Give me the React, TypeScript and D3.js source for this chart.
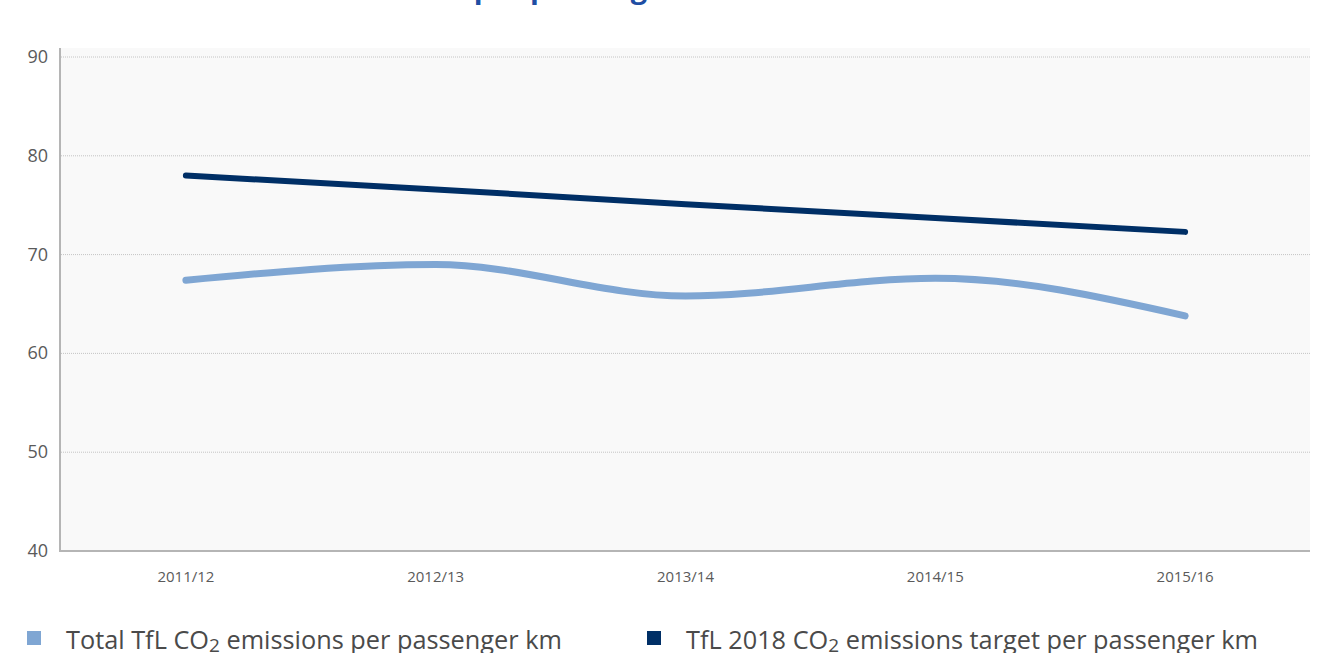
import React, { useEffect, useRef } from 'react';
import * as d3 from 'd3';

const years = ['2011/12', '2012/13', '2013/14', '2014/15', '2015/16'];
const totalEmissions = [67.4, 69.0, 65.8, 67.6, 63.8];
const targetEmissions = [78.0, 76.6, 75.1, 73.7, 72.3];
const yTicks = [40, 50, 60, 70, 80, 90];

const lightBlue = '#7fa6d3';
const darkBlue = '#002f66';
const font = "'Open Sans', 'DejaVu Sans', sans-serif";

const App: React.FC = () => {
  const svgRef = useRef<SVGSVGElement>(null);

  useEffect(() => {
    if (!svgRef.current) return;
    const svg = d3.select(svgRef.current);
    svg.selectAll('*').remove();

    const width = 1319;
    const margin = { top: 48, right: 9, bottom: 102, left: 61 };
    const bottom = 551;

    const x = d3
      .scalePoint<string>()
      .domain(years)
      .range([margin.left, width - margin.right])
      .padding(0.5);

    const y = d3.scaleLinear().domain([40, 90]).range([bottom, 57]);

    // title, cut off at the top edge
    svg
      .append('text')
      .attr('x', 257)
      .attr('y', -2)
      .attr('fill', '#1f4ea3')
      .attr('font-family', font)
      .attr('font-weight', 700)
      .attr('font-size', 29)
      .text('CO2 emissions per passenger km');

    svg
      .append('rect')
      .attr('x', margin.left)
      .attr('y', margin.top)
      .attr('width', width - margin.right - margin.left)
      .attr('height', bottom - margin.top)
      .attr('fill', '#f9f9f9');

    svg
      .append('g')
      .selectAll('line')
      .data(yTicks.slice(1))
      .enter()
      .append('line')
      .attr('x1', margin.left)
      .attr('x2', width - margin.right)
      .attr('y1', (d) => y(d))
      .attr('y2', (d) => y(d))
      .attr('stroke', '#c4c4c4')
      .attr('stroke-width', 1)
      .attr('stroke-dasharray', '1,1');

    svg
      .append('line')
      .attr('x1', margin.left - 1)
      .attr('x2', margin.left - 1)
      .attr('y1', margin.top)
      .attr('y2', bottom)
      .attr('stroke', '#b5b5b5')
      .attr('stroke-width', 2);

    svg
      .append('line')
      .attr('x1', margin.left - 2)
      .attr('x2', width - margin.right)
      .attr('y1', bottom)
      .attr('y2', bottom)
      .attr('stroke', '#b5b5b5')
      .attr('stroke-width', 2);

    svg
      .append('g')
      .selectAll('text')
      .data(yTicks)
      .enter()
      .append('text')
      .attr('x', 48)
      .attr('y', (d) => y(d) + 6)
      .attr('text-anchor', 'end')
      .attr('fill', '#5a5a5a')
      .attr('font-family', font)
      .attr('font-size', 18)
      .text((d) => d);

    svg
      .append('g')
      .selectAll('text')
      .data(years)
      .enter()
      .append('text')
      .attr('x', (d) => x(d) || 0)
      .attr('y', 582)
      .attr('text-anchor', 'middle')
      .attr('fill', '#5a5a5a')
      .attr('font-family', font)
      .attr('font-size', 15)
      .text((d) => d);

    const line = d3
      .line<number>()
      .x((_, i) => x(years[i]) || 0)
      .y((d) => y(d))
      .curve(d3.curveMonotoneX);

    svg
      .append('path')
      .datum(totalEmissions)
      .attr('d', line)
      .attr('fill', 'none')
      .attr('stroke', lightBlue)
      .attr('stroke-width', 7)
      .attr('stroke-linecap', 'round');

    svg
      .append('path')
      .datum(targetEmissions)
      .attr('d', line.curve(d3.curveLinear))
      .attr('fill', 'none')
      .attr('stroke', darkBlue)
      .attr('stroke-width', 6)
      .attr('stroke-linecap', 'round');

    const legend = [
      { color: lightBlue, pre: 'Total TfL CO', post: ' emissions per passenger km', x: 27 },
      { color: darkBlue, pre: 'TfL 2018 CO', post: ' emissions target per passenger km', x: 647 },
    ];

    const lg = svg
      .append('g')
      .selectAll('g')
      .data(legend)
      .enter()
      .append('g')
      .attr('transform', (d) => `translate(${d.x},0)`);

    lg.append('rect')
      .attr('x', 0)
      .attr('y', 631)
      .attr('width', 14)
      .attr('height', 14)
      .attr('fill', (d) => d.color);

    const t = lg
      .append('text')
      .attr('x', 39)
      .attr('y', 649)
      .attr('fill', '#4a4a4a')
      .attr('font-family', font)
      .attr('font-size', 25.3);
    t.append('tspan').text((d) => d.pre);
    t.append('tspan').attr('font-size', 19).attr('dy', 3).text('2');
    t.append('tspan').attr('dy', -3).text((d) => d.post);
  }, []);

  return (
    <svg
      ref={svgRef}
      width={1319}
      height={653}
      style={{ position: 'absolute', left: 0, top: 0, display: 'block', background: '#fff' }}
    />
  );
};

export default App;
